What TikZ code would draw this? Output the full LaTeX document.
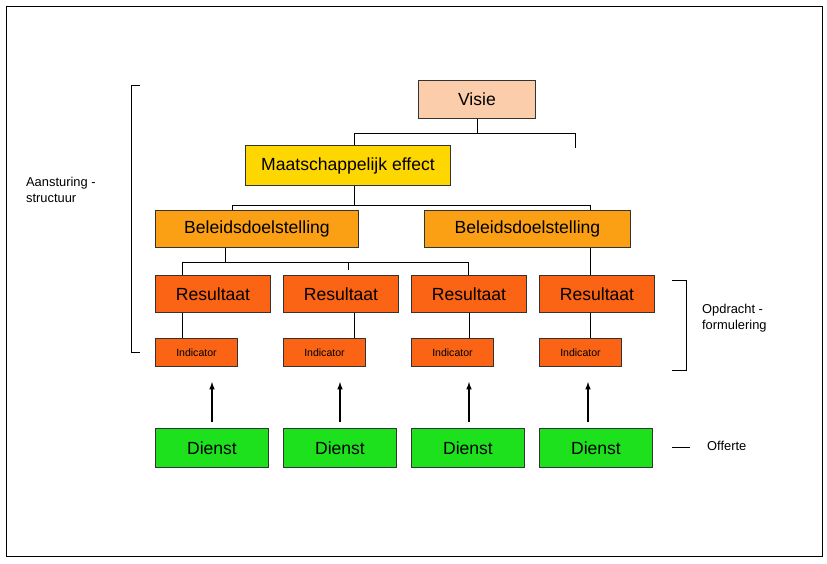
\documentclass[tikz,border=0pt]{standalone}
\usepackage{fontspec}
\setmainfont{Liberation Sans}
\usetikzlibrary{positioning}
\definecolor{visiec}{RGB}{251,205,170}
\definecolor{maatc}{RGB}{255,215,0}
\definecolor{beleidc}{RGB}{251,160,20}
\definecolor{resc}{RGB}{250,100,20}
\definecolor{dienstc}{RGB}{30,225,30}
\tikzset{
  box/.style={draw=black!80, line width=0.8pt, anchor=north west, inner sep=0pt, font=\fontsize{15}{15}\selectfont},
  conn/.style={line width=0.8pt},
}
\begin{document}
\begin{tikzpicture}[x=0.03cm, y=-0.03cm]
      % frame
      \draw[line width=0.6pt] (6, 6) rectangle (822, 556);
      \useasboundingbox (0, 0) rectangle (827, 564);
      % Boxes
      \node[box, fill=visiec, minimum width=3.51cm, minimum height=1.14cm] (visie) at (418, 80) {Visie};
      \node[box, fill=maatc, minimum width=6.15cm, minimum height=1.2cm] (maat) at (245, 145) {Maatschappelijk effect};
      \node[box, fill=beleidc, minimum width=6.09cm, minimum height=1.11cm] (bel1) at (155, 210) {Beleidsdoelstelling};
      \node[box, fill=beleidc, minimum width=6.18cm, minimum height=1.11cm] (bel2) at (424, 210) {Beleidsdoelstelling};
      \foreach \n/\x in {1/155, 2/283, 3/411, 4/539} {
        \node[box, fill=resc, minimum width=3.45cm, minimum height=1.11cm] (res\n) at (\x, 275) {Resultaat};
        \node[box, fill=resc, minimum width=2.46cm, minimum height=0.84cm, font=\fontsize{9}{9}\selectfont] (ind\n) at (\x, 338) {Indicator};
        \node[box, fill=dienstc, minimum width=3.39cm, minimum height=1.17cm] (dienst\n) at (\x, 428) {Dienst};
      }
      % Tree lines
      \coordinate (tick1) at (575, 148);
      \draw[conn] (visie.south) -- ++(0, 15) -| (maat.north -| 354, 0);
      \draw[conn] (visie.south) ++(0, 15) -| (tick1);
      \draw[conn] (maat.south -| 354, 0) -- ++(0, 20) -| (bel1.north -| 232, 0);
      \draw[conn] (maat.south -| 354, 0) ++(0, 20) -| (bel2.north -| 590, 0);
      \coordinate (t1) at (182, 275);
      \coordinate (t2) at (348, 270);
      \coordinate (t3) at (468, 275);
      \draw[conn] (bel1.south -| 225, 0) -- ++(0, 15) -| (t1);
      \draw[conn] (bel1.south -| 225, 0) ++(0, 15) -| (t3);
      \draw[conn] (t2) -- (348, 262);
      \draw[conn] (bel2.south -| 590, 0) -- (res4.north -| 590, 0);
      \foreach \n/\x in {1/182, 2/354, 3/469, 4/590}
        \draw[conn] (res\n.south -| \x, 0) -- (ind\n.north -| \x, 0);
      \foreach \n/\x in {1/212, 2/340, 3/469, 4/588}
        \draw[-latex, line width=1.2pt] (\x, 422) -- (\x, 382);
      % Brackets
      \draw[conn] (140, 85) -- (131, 85) -- (131, 352) -- (140, 352);
      \node[align=left, anchor=west, font=\fontsize{11}{14}\selectfont] (aanst) at (22, 190) {Aansturing -\\structuur};
      \draw[conn] (672, 280) -- (686, 280) -- (686, 370) -- (672, 370);
      \node[align=left, anchor=west, font=\fontsize{11}{14}\selectfont] (opdr) at (698, 318) {Opdracht -\\formulering};
      \coordinate (off) at (690, 447);
      \node[anchor=west, font=\fontsize{11}{14}\selectfont] (offerte) at (703, 446) {Offerte};
      \draw[conn] (672, 447) -- (off);
\end{tikzpicture}
\end{document}
